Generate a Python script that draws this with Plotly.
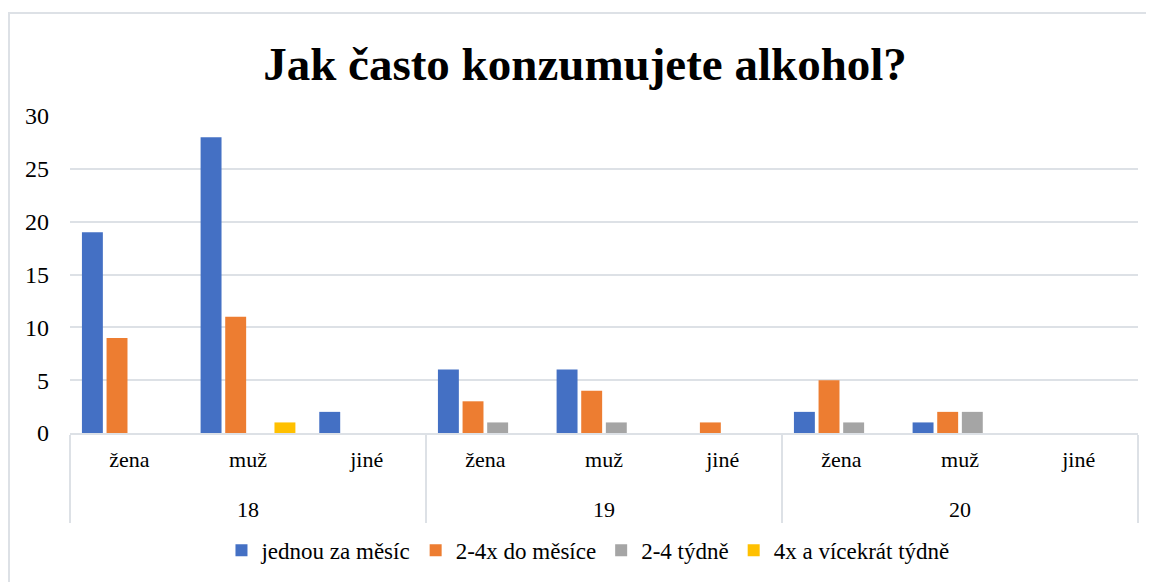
import plotly.graph_objects as go

ages = ["<br>18"] * 3 + ["<br>19"] * 3 + ["<br>20"] * 3
genders = ["žena", "muž", "jiné"] * 3

series_names = ["jednou za měsíc", "2-4x do měsíce", "2-4 týdně", "4x a vícekrát týdně"]
jednou_za_mesic = [19, 28, 2, 6, 6, 0, 2, 1, 0]
do_mesice_2_4x = [9, 11, 0, 3, 4, 1, 5, 2, 0]
tydne_2_4 = [0, 0, 0, 1, 1, 0, 1, 2, 0]
tydne_4x = [0, 1, 0, 0, 0, 0, 0, 0, 0]

colors = ["#4470C4", "#ED7D31", "#A5A5A5", "#FFC000"]
FONT = "Liberation Serif"
GRID = "#DDE1E6"

fig = go.Figure()
for name, vals, col in zip(series_names,
                           [jednou_za_mesic, do_mesice_2_4x, tydne_2_4, tydne_4x],
                           colors):
    fig.add_trace(go.Bar(x=[ages, genders], y=vals, name=name,
                         marker=dict(color=col, line=dict(width=0))))

# page body adds 8px offset, margins compensate
fig.update_layout(
    width=1154, height=582,
    paper_bgcolor="white", plot_bgcolor="white",
    font=dict(family=FONT, size=22, color="#000000"),
    title=dict(text="<b>Jak často konzumujete alkohol?</b>", x=0.5, xanchor="center",
               y=0.905, yanchor="middle", font=dict(family=FONT, size=47, color="#000000")),
    margin=dict(l=62, r=24, t=108, b=157),
    barmode="group", bargap=0.17, bargroupgap=0.15,
    legend=dict(orientation="h", x=0.485, xanchor="center", y=-0.37, yanchor="middle",
                font=dict(family=FONT, size=23), itemwidth=30, traceorder="normal"),
    shapes=[dict(type="rect", xref="paper", yref="paper",
                 x0=(1 - 62) / 1068, x1=(1170 - 62) / 1068,
                 y0=(425 - 600) / 317, y1=(425 - 5) / 317,
                 line=dict(color=GRID, width=2), layer="below")],
)
fig.update_yaxes(range=[0, 30], dtick=5, showgrid=True, gridcolor=GRID, gridwidth=1.5,
                 zeroline=False, showline=False, ticks="", ticklabelstandoff=20,
                 automargin=False, tickfont=dict(family=FONT, size=24))
fig.update_xaxes(type="multicategory", showline=True, linecolor=GRID, linewidth=2,
                 showdividers=True, dividercolor=GRID, dividerwidth=2,
                 ticklabelstandoff=6,
                 automargin=False, tickfont=dict(family=FONT, size=22), ticks="")

fig.write_html("out.html")
